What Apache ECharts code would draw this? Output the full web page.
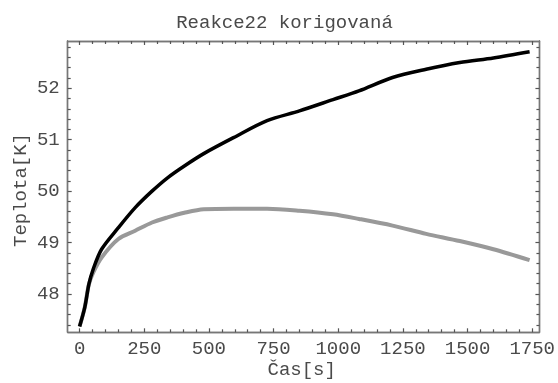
<!DOCTYPE html>
<html>
<head>
<meta charset="utf-8">
<script src="https://cdn.jsdelivr.net/npm/echarts@6/dist/echarts.min.js"></script>
<style>html,body{margin:0;padding:0;background:#fff;}#c{width:558px;height:383px;}</style>
</head>
<body>
<div id="c"></div>
<script>
// ---- data ----
var title = 'Reakce22 korigovaná';
var xName = 'Čas[s]';
var yName = 'Teplota[K]';

var xTickLabels = [0, 250, 500, 750, 1000, 1250, 1500, 1750];
var yTickLabels = [48, 49, 50, 51, 52];

var timeBlack = [0, 20, 36, 53, 85, 150, 215, 280, 340, 405, 480, 595, 725, 850, 980, 1080, 1210, 1340, 1470, 1600, 1740];
var tempBlack = [47.37, 47.74, 48.19, 48.49, 48.87, 49.29, 49.68, 50.00, 50.26, 50.49, 50.73, 51.04, 51.37, 51.56, 51.78, 51.95, 52.21, 52.37, 52.50, 52.59, 52.71];

var timeGrey = [0, 20, 36, 53, 85, 150, 215, 280, 340, 405, 480, 595, 725, 850, 980, 1080, 1210, 1340, 1470, 1600, 1740];
var tempGrey = [47.37, 47.74, 48.19, 48.42, 48.71, 49.07, 49.23, 49.39, 49.49, 49.58, 49.65, 49.66, 49.66, 49.62, 49.55, 49.46, 49.33, 49.17, 49.03, 48.87, 48.66];

// ---- build ----
function pairs(t, v) { return t.map(function (x, i) { return [x, v[i]]; }); }
function range(a, b, s) { var r = []; for (var x = a; x <= b + 1e-9; x += s) r.push(Math.round(x * 100) / 100); return r; }
var xMinor = range(0, 1750, 50).filter(function (x) { return x % 250 !== 0; });
var yMinor = range(47.4, 52.8, 0.2).filter(function (y) { return Math.abs(y - Math.round(y)) > 1e-6; });

var FONT = 'Liberation Mono';
var TXT = '#4a4a4a';
var FRAME = '#777';
var XMIN = -46, XMAX = 1778, YMIN = 47.255, YMAX = 52.92;

function lbl(labels, margin) {
  return labels ? { show: true, customValues: labels, margin: margin, fontFamily: FONT, fontSize: 19, color: TXT,
    formatter: function (v) { return String(Math.round(v)); } } : { show: false };
}
function xAx(pos, ticks, len, labels) {
  return {
    type: 'value', position: pos, min: XMIN, max: XMAX,
    axisLine: { show: true, onZero: false, lineStyle: { color: FRAME, width: 1.4 } },
    splitLine: { show: false },
    axisTick: { show: true, inside: true, length: len, customValues: ticks, lineStyle: { color: '#555', width: 1.2 } },
    axisLabel: lbl(labels, 7)
  };
}
function yAx(pos, ticks, len, labels) {
  return {
    type: 'value', position: pos, min: YMIN, max: YMAX,
    axisLine: { show: true, onZero: false, lineStyle: { color: FRAME, width: 1.4 } },
    splitLine: { show: false },
    axisTick: { show: true, inside: true, length: len, customValues: ticks, lineStyle: { color: '#555', width: 1.2 } },
    axisLabel: lbl(labels, 8)
  };
}

var chart = echarts.init(document.getElementById('c'), null, { renderer: 'canvas' });
chart.setOption({
  animation: false,
  backgroundColor: '#fff',
  grid: { left: 67.7, right: 17.3, top: 41, bottom: 50.7 },
  xAxis: [
    xAx('bottom', xTickLabels, 4, xTickLabels),
    xAx('bottom', xMinor, 3, null),
    xAx('top', xTickLabels, 4, null),
    xAx('top', xMinor, 3, null)
  ],
  yAxis: [
    yAx('left', yTickLabels, 4, yTickLabels),
    yAx('left', yMinor, 3, null),
    yAx('right', yTickLabels, 4, null),
    yAx('right', yMinor, 3, null)
  ],
  graphic: [
    { type: 'text', x: 284.5, y: 22.7, style: { text: title, fontFamily: FONT, fontSize: 19, fill: TXT, align: 'center', verticalAlign: 'middle' } },
    { type: 'text', x: 301.7, y: 370, style: { text: xName, fontFamily: FONT, fontSize: 19, fill: TXT, align: 'center', verticalAlign: 'middle' } },
    { type: 'text', x: 20.7, y: 190, rotation: Math.PI / 2, style: { text: yName, fontFamily: FONT, fontSize: 19, fill: TXT, align: 'center', verticalAlign: 'middle' } }
  ],
  series: [
    { type: 'line', xAxisIndex: 0, yAxisIndex: 0, data: pairs(timeGrey, tempGrey), smooth: 0.3, showSymbol: false,
      lineStyle: { color: '#999', width: 4 } },
    { type: 'line', xAxisIndex: 0, yAxisIndex: 0, data: pairs(timeBlack, tempBlack), smooth: 0.3, showSymbol: false,
      lineStyle: { color: '#000', width: 3.5 } }
  ]
});
</script>
</body>
</html>
